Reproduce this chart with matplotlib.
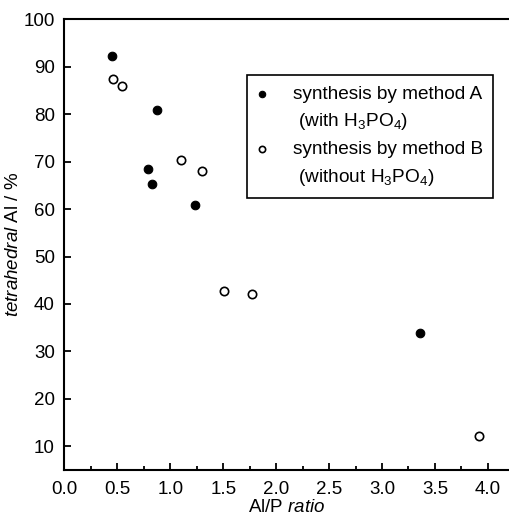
import numpy as np
import matplotlib
matplotlib.use("Agg")
import matplotlib.pyplot as plt
from matplotlib.ticker import MultipleLocator

plt.rcParams['font.family'] = ['Liberation Sans', 'DejaVu Sans']
plt.rcParams['mathtext.fontset'] = 'custom'
plt.rcParams['mathtext.rm'] = 'Liberation Sans'
plt.rcParams['mathtext.it'] = 'Liberation Sans:italic'

# method A (with H3PO4)
ratio_a = [0.445, 0.873, 0.785, 0.83, 1.234, 3.357]
tetra_a = [92.3, 80.8, 68.4, 65.2, 60.8, 33.9]
# method B (without H3PO4)
ratio_b = [0.455, 0.545, 1.105, 1.297, 1.505, 1.775, 3.92]
tetra_b = [87.4, 85.9, 70.4, 68.1, 42.8, 42.0, 12.1]

fig = plt.figure(figsize=(5.09, 5.18), dpi=100)
ax = fig.add_axes([0.1267, 0.0927, 0.8733, 0.87])

ha = ax.scatter(ratio_a, tetra_a, s=38, c='black', edgecolors='black', linewidths=0.8)
hb = ax.scatter(ratio_b, tetra_b, s=36, facecolors='white', edgecolors='black', linewidths=1.2)

ax.set_xlim(0, 4.2)
ax.set_ylim(5, 100)
ax.xaxis.set_major_locator(MultipleLocator(0.5))
ax.xaxis.set_minor_locator(MultipleLocator(0.25))
ax.set_yticks(np.arange(10, 101, 10))

for side in ['left', 'bottom', 'top']:
    ax.spines[side].set_linewidth(1.5)
ax.spines['right'].set_visible(False)
ax.tick_params(which='major', direction='in', length=5, width=1.3, labelsize=13.5, pad=8)
ax.tick_params(which='minor', direction='in', length=3, width=1.3)
ax.tick_params(axis='y', pad=7)

ax.set_xlabel(r'Al/P $\mathit{ratio}$', fontsize=13.5, labelpad=1)
ax.set_ylabel(r'$\mathit{tetrahedral}$ Al / %', fontsize=13.5, labelpad=1)

blank = plt.Line2D([], [], linestyle='none', marker='none')
leg = ax.legend([ha, blank, hb, blank],
                ['synthesis by method A', ' (with H$_3$PO$_4$)',
                 'synthesis by method B', ' (without H$_3$PO$_4$)'],
                loc='upper left', bbox_to_anchor=(0.4106, 0.8764),
                fontsize=13.7, frameon=True, fancybox=False, edgecolor='black',
                framealpha=1, handlelength=0.47, handletextpad=1.39,
                labelspacing=0.45, borderpad=0.55, borderaxespad=0,
                markerscale=0.75)
leg.get_frame().set_linewidth(1.2)

fig.savefig('out.png', dpi=100)
